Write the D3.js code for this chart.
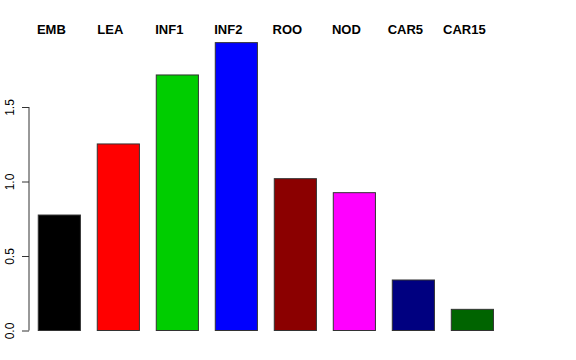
<!DOCTYPE html>
<html lang="en">
    <head>
        <meta charset="utf-8">
        <title>Barplot</title>
        <script type="text/javascript" src="https://cdn.jsdelivr.net/npm/d3@7"></script>
        <style type="text/css">
        body { margin: 0; background: #fff; }
        .bar { stroke: #333; stroke-width: 1; }
        .axis path, .axis line { fill: none; stroke: #333; }
        .axis text { font-family: "Liberation Sans", Arial, sans-serif; font-size: 12px; fill: #000; }
        .lab { font-family: "Liberation Sans", Arial, sans-serif; font-size: 13px; font-weight: bold; }
        </style>
    </head>
    <body>
        <script>
                var w = 576;
                var h = 360;

                var categories = ["EMB", "LEA", "INF1", "INF2", "ROO", "NOD", "CAR5", "CAR15"];
                var values = [0.775, 1.252, 1.715, 1.932, 1.019, 0.925, 0.339, 0.142];
                var colors = ["#000000", "#ff0000", "#00cd00", "#0000ff", "#8b0000", "#ff00ff", "#000080", "#006400"];
                var yTicks = [0, 0.5, 1.0, 1.5];

                var xScale = d3.scaleBand()
                  .domain(categories)
                  .range([21.4, 510.3])
                  .paddingInner(0.2857)
                  .paddingOuter(0.2857);

                var yScale = d3.scaleLinear()
                  .domain([0, 1])
                  .range([330.5, 181.5]);

                var svg = d3.select("body")
                  .append("svg")
                  .attr("width", w)
                  .attr("height", h);

                svg.selectAll(".bar")
                  .data(values)
                  .enter().append("rect")
                  .attr("class", "bar")
                  .attr("x", function(d, i) { return xScale(categories[i]); })
                  .attr("y", function(d) { return yScale(d); })
                  .attr("width", xScale.bandwidth())
                  .attr("height", function(d) { return yScale(0) - yScale(d); })
                  .attr("fill", function(d, i) { return colors[i]; });

                var yAxis = svg.append("g")
                  .attr("class", "axis")
                  .attr("transform", "translate(29,0)")
                  .call(d3.axisLeft(yScale)
                    .tickValues(yTicks)
                    .tickFormat(d3.format(".1f"))
                    .tickSize(7)
                    .tickSizeOuter(0)
                    .tickPadding(0));

                // R style: axis line only spans the ticks
                yAxis.select(".domain")
                  .attr("d", "M0," + yScale(0) + "V" + yScale(1.5));

                yAxis.selectAll("text")
                  .attr("transform", "rotate(-90)")
                  .attr("x", 0)
                  .attr("y", -15.5)
                  .attr("dy", 0)
                  .style("text-anchor", "middle");

                svg.selectAll(".lab")
                  .data(categories)
                  .enter().append("text")
                  .attr("class", "lab")
                  .attr("x", function(d) { return xScale(d) + xScale.bandwidth() / 2 - 8; })
                  .attr("y", 34)
                  .attr("text-anchor", "middle")
                  .text(function(d) { return d; });
            </script>
    </body>
</html>
